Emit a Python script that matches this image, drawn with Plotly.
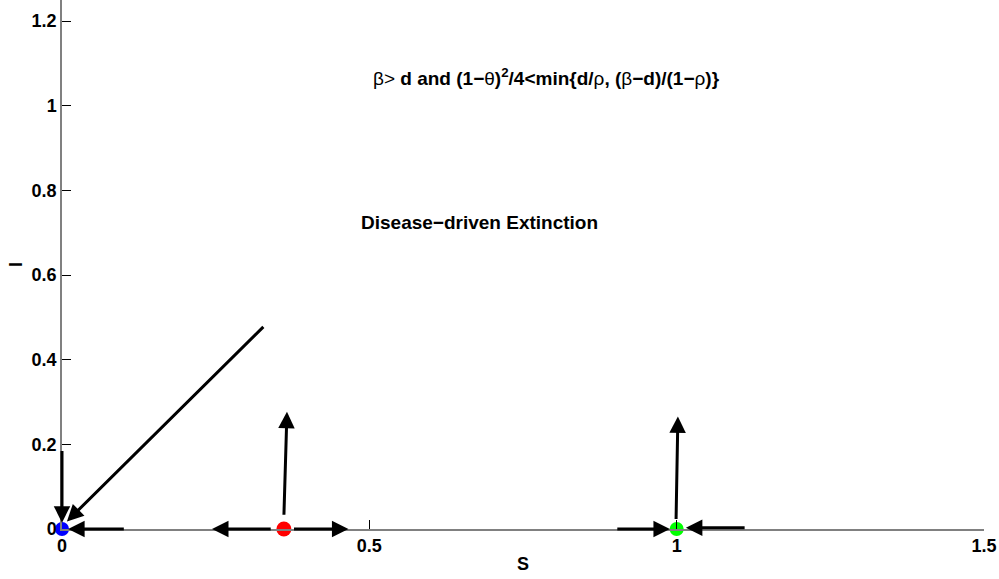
import plotly.graph_objects as go

# Equilibria
eq_S = [0.0, 0.361, 1.0]
eq_I = [0.0, 0.0, 0.0]
eq_colors = ["#0000ff", "#ff0000", "#00ff00"]
eq_sizes = [14, 15, 14]

# Arrows: tail (S, I) -> head (S, I)
arrow_tail_S = [0.0, 0.330, 0.103, 0.342, 0.375, 0.361, 0.999, 1.113, 0.901]
arrow_tail_I = [0.188, 0.481, 0.0, 0.0, 0.0, 0.03, 0.02, 0.003, 0.0]
arrow_head_S = [0.0, 0.008, 0.010, 0.244, 0.466, 0.366, 1.002, 1.015, 0.989]
arrow_head_I = [0.015, 0.018, 0.0, 0.0, 0.0, 0.277, 0.266, 0.003, 0.0]

x_ticks = [0, 0.5, 1, 1.5]
y_ticks = [0, 0.2, 0.4, 0.6, 0.8, 1, 1.2]

FONT = "Liberation Sans, Arial, Helvetica, sans-serif"

fig = go.Figure()

for ts, ti, hs, hi in zip(arrow_tail_S, arrow_tail_I, arrow_head_S, arrow_head_I):
    fig.add_annotation(x=hs, y=hi, ax=ts, ay=ti, xref="x", yref="y", axref="x", ayref="y",
                       text="", showarrow=True, arrowhead=2, arrowsize=1.1, arrowwidth=3,
                       arrowcolor="black", standoff=0, startstandoff=0)

fig.add_trace(go.Scatter(
    x=eq_S, y=eq_I, mode="markers",
    marker=dict(color=eq_colors, size=eq_sizes, opacity=1, line=dict(width=0)),
    showlegend=False, hoverinfo="skip", cliponaxis=False))

fig.add_annotation(x=0.789, y=1.069, xref="x", yref="y", showarrow=False,
                   text="<span style='font-weight:normal'>β</span>> <b>d and (1−</b><span style='font-weight:normal'>θ</span><b>)</b><sup><b>2</b></sup><b>/4&lt;min{d/</b><span style='font-weight:normal'>ρ</span><b>, (</b><span style='font-weight:normal'>β</span><b>−d)/(1−</b><span style='font-weight:normal'>ρ</span><b>)}</b>",
                   font=dict(family=FONT, size=19, color="black"))
fig.add_annotation(x=0.679, y=0.724, xref="x", yref="y", showarrow=False,
                   text="<b>Disease−driven Extinction</b>",
                   font=dict(family=FONT, size=19, color="black"))

fig.update_xaxes(range=[0, 1.5], tickvals=x_ticks, ticktext=["<b>%g</b>" % v for v in x_ticks],
                 showline=True, linecolor="#808080", linewidth=1.5, ticks="inside", ticklen=9,
                 tickcolor="black", showgrid=False, zeroline=False,
                 tickfont=dict(family=FONT, size=18, color="black"),
                 title=dict(text="<b>S</b>", font=dict(family=FONT, size=18, color="black"), standoff=2))
fig.update_yaxes(range=[0, 1.25], tickvals=y_ticks, ticktext=["<b>%g</b>" % v for v in y_ticks],
                 showline=True, linecolor="#808080", linewidth=1.5, ticks="inside", ticklen=9,
                 tickcolor="black", showgrid=False, zeroline=False,
                 tickfont=dict(family=FONT, size=18, color="black"),
                 title=dict(text="<b>I</b>", font=dict(family=FONT, size=18, color="black"), standoff=4))

fig.update_layout(width=999, height=579, margin=dict(l=62, r=15, t=0, b=50),
                  plot_bgcolor="white", paper_bgcolor="white", showlegend=False)

fig.write_html("out.html")
